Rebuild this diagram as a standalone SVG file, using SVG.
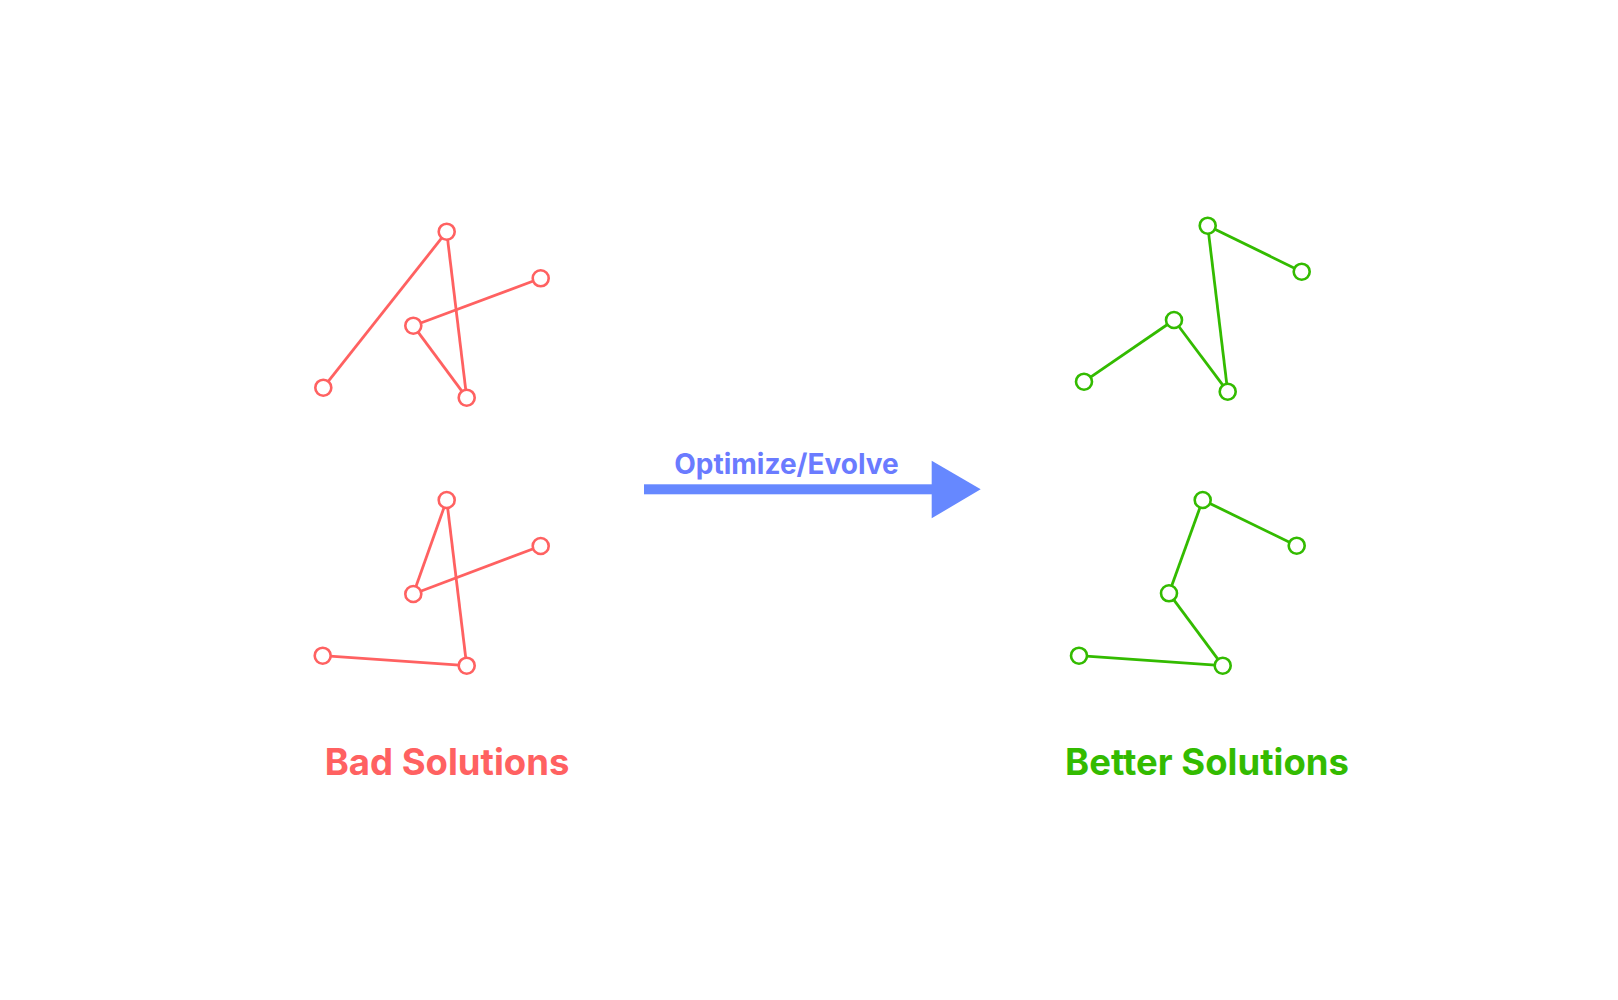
<svg xmlns="http://www.w3.org/2000/svg" width="1618" height="1000" viewBox="0 0 1618 1000">
<style>
.bad{stroke:#ff6161;stroke-width:2.8;fill:none}
.good{stroke:#33bb00;stroke-width:2.8;fill:none}
.nb{stroke:#ff6161;stroke-width:2.6;fill:#fff}
.ng{stroke:#33bb00;stroke-width:2.6;fill:#fff}
.lbl{font-family:Inter,"Liberation Sans",sans-serif;font-weight:700;text-anchor:middle}
</style>
<rect width="1618" height="1000" fill="#fff"/>
<g id="connectors">
<line class="bad" x1="323.3" y1="387.7" x2="446.7" y2="231.7"/>
<line class="bad" x1="446.7" y1="231.7" x2="466.7" y2="397.7"/>
<line class="bad" x1="413.3" y1="325.7" x2="540.7" y2="278.3"/>
<line class="bad" x1="413.3" y1="325.7" x2="466.7" y2="397.7"/>
<line class="bad" x1="446.7" y1="500" x2="413.3" y2="594"/>
<line class="bad" x1="446.7" y1="500" x2="466.7" y2="665.7"/>
<line class="bad" x1="413.3" y1="594" x2="540.7" y2="546"/>
<line class="bad" x1="322.7" y1="655.7" x2="466.7" y2="665.7"/>
<line class="good" x1="1207.7" y1="225.7" x2="1301.7" y2="271.7"/>
<line class="good" x1="1207.7" y1="225.7" x2="1227.7" y2="391.7"/>
<line class="good" x1="1084" y1="381.7" x2="1174" y2="320"/>
<line class="good" x1="1174" y1="320" x2="1227.7" y2="391.7"/>
<line class="good" x1="1202.7" y1="500" x2="1296.7" y2="545.7"/>
<line class="good" x1="1202.7" y1="500" x2="1169" y2="593.3"/>
<line class="good" x1="1169" y1="593.3" x2="1222.7" y2="665.7"/>
<line class="good" x1="1079" y1="655.7" x2="1222.7" y2="665.7"/>
<g id="arrow">
<rect x="644" y="484.3" width="290" height="10" fill="#6688ff"/>
<polygon points="931.7,460.7 980.7,489.3 931.7,518.3" fill="#6688ff"/>
</g>
</g>
<g id="bad-1">
<circle class="nb" cx="446.7" cy="231.7" r="8"/>
<circle class="nb" cx="540.7" cy="278.3" r="8"/>
<circle class="nb" cx="413.3" cy="325.7" r="8"/>
<circle class="nb" cx="323.3" cy="387.7" r="8"/>
<circle class="nb" cx="466.7" cy="397.7" r="8"/>
</g>
<g id="bad-2">
<circle class="nb" cx="446.7" cy="500" r="8"/>
<circle class="nb" cx="540.7" cy="546" r="8"/>
<circle class="nb" cx="413.3" cy="594" r="8"/>
<circle class="nb" cx="322.7" cy="655.7" r="8"/>
<circle class="nb" cx="466.7" cy="665.7" r="8"/>
</g>
<g id="good-1">
<circle class="ng" cx="1207.7" cy="225.7" r="8"/>
<circle class="ng" cx="1301.7" cy="271.7" r="8"/>
<circle class="ng" cx="1174" cy="320" r="8"/>
<circle class="ng" cx="1084" cy="381.7" r="8"/>
<circle class="ng" cx="1227.7" cy="391.7" r="8"/>
</g>
<g id="good-2">
<circle class="ng" cx="1202.7" cy="500" r="8"/>
<circle class="ng" cx="1296.7" cy="545.7" r="8"/>
<circle class="ng" cx="1169" cy="593.3" r="8"/>
<circle class="ng" cx="1079" cy="655.7" r="8"/>
<circle class="ng" cx="1222.7" cy="665.7" r="8"/>
</g>
<g id="label-arrow"><text class="lbl" x="786.5" y="474" font-size="28" fill="#6a7bff">Optimize/Evolve</text></g>
<g id="label-bad"><text class="lbl" x="447" y="775" font-size="36.5" fill="#ff6161">Bad Solutions</text></g>
<g id="label-good"><text class="lbl" x="1207" y="775" font-size="36.5" fill="#33bb00">Better Solutions</text></g>
</svg>
